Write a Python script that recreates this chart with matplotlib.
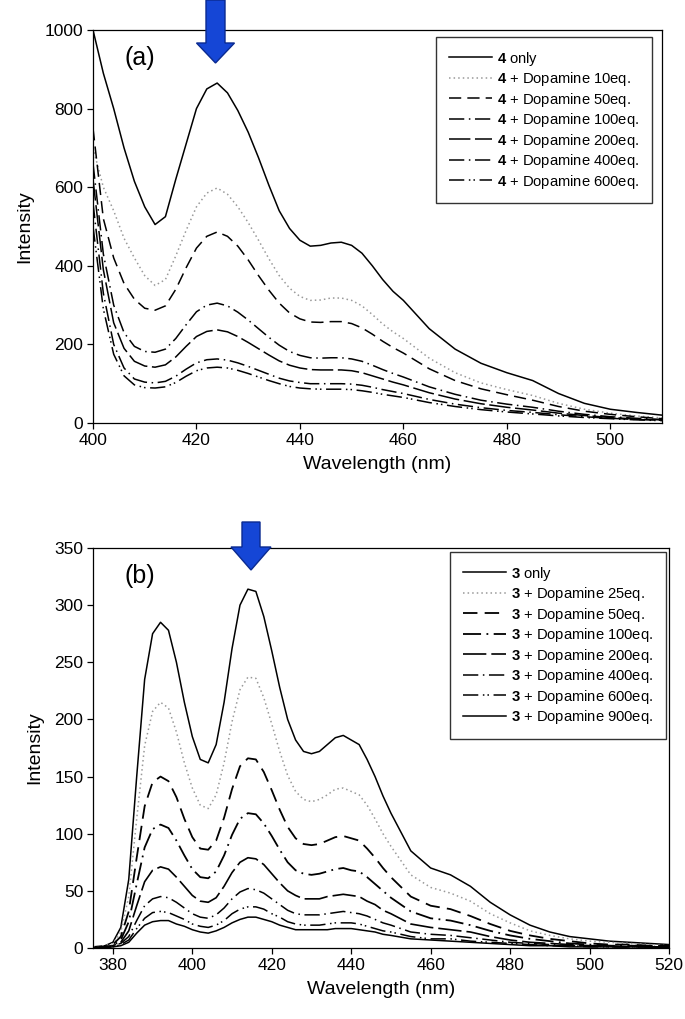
import matplotlib
matplotlib.use("Agg")
import matplotlib.pyplot as plt
from matplotlib.patches import Polygon

plt.rcParams['font.family'] = ['Liberation Sans', 'DejaVu Sans']
plt.rcParams['mathtext.fontset'] = 'custom'
plt.rcParams['mathtext.bf'] = 'Liberation Sans:bold'
plt.rcParams['mathtext.rm'] = 'Liberation Sans'
plt.rcParams['lines.solid_joinstyle'] = 'round'
plt.rcParams['lines.dash_joinstyle'] = 'round'

# ---------------- panel (a) data ----------------
wl_a = [400, 402, 404, 406, 408, 410, 412, 414, 416, 418, 420, 422, 424, 426, 428, 430,
        432, 434, 436, 438, 440, 442, 444, 446, 448, 450, 452, 454, 456, 458, 460,
        465, 470, 475, 480, 485, 490, 495, 500, 505, 510]
a_only = [1000, 890, 800, 700, 615, 550, 505, 525, 620, 710, 800, 850, 865, 840, 795, 740,
          675, 605, 540, 495, 465, 450, 452, 458, 460, 452, 432, 400, 365, 335, 312,
          240, 188, 152, 128, 108, 75, 50, 35, 27, 20]
a_10 = [700, 600, 540, 470, 420, 375, 350, 365, 425, 490, 550, 585, 598, 582, 550, 510,
        465, 418, 375, 343, 322, 312, 313, 318, 318, 312, 298, 276, 252, 232, 215,
        165, 128, 102, 85, 70, 50, 35, 25, 18, 13]
a_50 = [750, 520, 420, 355, 315, 292, 287, 298, 340, 395, 445, 475, 486, 475, 450, 415,
        375, 338, 305, 280, 265, 257, 256, 258, 258, 253, 242, 226, 208, 192, 178,
        138, 108, 87, 72, 58, 42, 30, 22, 16, 11]
a_100 = [660, 430, 300, 230, 195, 182, 180, 188, 215, 250, 283, 300, 305, 298, 282, 262,
         240, 218, 198, 182, 172, 166, 165, 166, 166, 163, 157, 147, 136, 126, 117,
         92, 73, 58, 48, 40, 30, 22, 16, 12, 9]
a_200 = [620, 390, 255, 190, 157, 145, 142, 148, 168, 195, 220, 233, 237, 232, 220, 205,
         189, 173, 158, 147, 140, 136, 135, 135, 135, 133, 128, 120, 112, 104, 97,
         77, 61, 49, 40, 33, 25, 19, 14, 10, 8]
a_400 = [560, 330, 200, 140, 112, 104, 102, 106, 119, 137, 153, 161, 163, 160, 153, 144,
         134, 124, 114, 107, 103, 100, 100, 100, 100, 99, 96, 91, 85, 80, 75,
         60, 48, 39, 32, 27, 21, 16, 12, 9, 7]
a_600 = [500, 290, 175, 120, 97, 90, 89, 92, 103, 119, 133, 140, 142, 140, 134, 126,
         117, 108, 100, 93, 89, 87, 86, 86, 86, 85, 82, 78, 73, 69, 65,
         52, 42, 34, 28, 23, 18, 14, 11, 8, 6]
labels_a = [r"$\mathbf{4}$ only", r"$\mathbf{4}$ + Dopamine 10eq.", r"$\mathbf{4}$ + Dopamine 50eq.",
            r"$\mathbf{4}$ + Dopamine 100eq.", r"$\mathbf{4}$ + Dopamine 200eq.",
            r"$\mathbf{4}$ + Dopamine 400eq.", r"$\mathbf{4}$ + Dopamine 600eq."]
series_a = [a_only, a_10, a_50, a_100, a_200, a_400, a_600]

# ---------------- panel (b) data ----------------
wl_b = [375, 378, 380, 382, 384, 386, 388, 390, 392, 394, 396, 398, 400, 402, 404, 406,
        408, 410, 412, 414, 416, 418, 420, 422, 424, 426, 428, 430, 432, 434, 436, 438,
        440, 442, 444, 446, 448, 450, 455, 460, 465, 470, 475, 480, 485, 490, 495, 500,
        505, 510, 515, 520]
b_only = [1, 2, 5, 18, 60, 150, 235, 275, 285, 278, 250, 215, 185, 165, 162, 178,
          215, 262, 300, 314, 312, 290, 260, 228, 200, 182, 172, 170, 172, 178, 184, 186,
          182, 178, 165, 150, 133, 118, 85, 70, 64, 54, 40, 29, 20, 14, 10, 8,
          6, 5, 4, 3]
b_25 = [1, 2, 4, 14, 45, 113, 177, 207, 215, 210, 189, 162, 140, 125, 122, 134,
        162, 198, 226, 237, 236, 219, 196, 172, 151, 137, 130, 128, 130, 134, 139, 140,
        137, 134, 125, 113, 100, 89, 64, 53, 48, 41, 30, 22, 15, 11, 8, 6,
        5, 4, 3, 2]
b_50 = [0, 1, 3, 10, 32, 79, 124, 145, 150, 146, 132, 113, 97, 87, 86, 94,
        114, 139, 159, 166, 165, 154, 138, 121, 106, 96, 91, 90, 91, 94, 97, 98,
        96, 94, 87, 79, 70, 62, 45, 37, 34, 28, 21, 15, 11, 8, 6, 4,
        3, 3, 2, 2]
b_100 = [0, 1, 2, 7, 23, 56, 88, 104, 108, 105, 94, 81, 69, 62, 61, 67,
         81, 99, 113, 118, 117, 109, 98, 86, 75, 68, 65, 64, 65, 67, 69, 70,
         68, 67, 62, 56, 50, 44, 32, 26, 24, 20, 15, 11, 8, 6, 4, 3,
         2, 2, 2, 1]
b_200 = [0, 1, 2, 5, 15, 37, 58, 68, 71, 69, 62, 54, 46, 41, 40, 44,
         54, 66, 75, 79, 78, 73, 65, 57, 50, 46, 43, 43, 43, 45, 46, 47,
         46, 45, 41, 38, 33, 30, 21, 18, 16, 14, 10, 7, 5, 4, 3, 2,
         2, 1, 1, 1]
b_400 = [0, 1, 2, 4, 10, 24, 37, 43, 45, 44, 40, 35, 30, 27, 26, 29,
         35, 43, 49, 52, 51, 48, 43, 38, 33, 30, 29, 29, 29, 30, 31, 32,
         31, 30, 28, 25, 22, 20, 14, 12, 11, 9, 7, 5, 4, 3, 2, 2,
         1, 1, 1, 1]
b_600 = [0, 1, 1, 3, 7, 17, 26, 31, 32, 31, 28, 25, 21, 19, 18, 20,
         24, 30, 34, 36, 36, 34, 30, 27, 23, 21, 20, 20, 20, 21, 22, 22,
         22, 21, 19, 17, 15, 14, 10, 8, 8, 6, 5, 4, 3, 2, 2, 1,
         1, 1, 1, 1]
b_900 = [0, 0, 1, 2, 5, 13, 20, 23, 24, 24, 21, 19, 16, 14, 13, 15,
         18, 22, 25, 27, 27, 25, 23, 20, 18, 16, 16, 16, 16, 16, 17, 17,
         17, 16, 15, 14, 12, 11, 8, 7, 6, 5, 4, 3, 2, 2, 1, 1,
         1, 1, 1, 0]
labels_b = [r"$\mathbf{3}$ only", r"$\mathbf{3}$ + Dopamine 25eq.", r"$\mathbf{3}$ + Dopamine 50eq.",
            r"$\mathbf{3}$ + Dopamine 100eq.", r"$\mathbf{3}$ + Dopamine 200eq.",
            r"$\mathbf{3}$ + Dopamine 400eq.", r"$\mathbf{3}$ + Dopamine 600eq.",
            r"$\mathbf{3}$ + Dopamine 900eq."]
series_b = [b_only, b_25, b_50, b_100, b_200, b_400, b_600, b_900]

# line styles (Excel-like)
styles_a = [
    dict(color='black', lw=1.1, ls='-'),
    dict(color='#999999', lw=1.1, ls=(0, (1, 2))),
    dict(color='black', lw=1.1, ls=(0, (8, 4))),
    dict(color='black', lw=1.1, ls=(0, (10, 3, 1, 3))),
    dict(color='black', lw=1.1, ls=(0, (14, 3))),
    dict(color='black', lw=1.1, ls=(0, (10, 3, 1, 3))),
    dict(color='black', lw=1.1, ls=(0, (10, 3, 1, 2, 1, 3))),
]
styles_b = [
    dict(color='black', lw=1.1, ls='-'),
    dict(color='#999999', lw=1.1, ls=(0, (1, 2))),
    dict(color='black', lw=1.3, ls=(0, (8, 4))),
    dict(color='black', lw=1.3, ls=(0, (10, 3, 1, 3))),
    dict(color='black', lw=1.2, ls=(0, (14, 3))),
    dict(color='black', lw=1.1, ls=(0, (10, 3, 1, 3))),
    dict(color='black', lw=1.1, ls=(0, (10, 3, 1, 2, 1, 3))),
    dict(color='black', lw=1.1, ls='-'),
]

W, H = 685, 1019
fig = plt.figure(figsize=(W / 100, H / 100), dpi=100)
A1 = (93, 30, 662, 423)   # left, top, right, bottom in px
A2 = (93, 548, 669, 948)
ax1 = fig.add_axes([A1[0] / W, 1 - A1[3] / H, (A1[2] - A1[0]) / W, (A1[3] - A1[1]) / H])
ax2 = fig.add_axes([A2[0] / W, 1 - A2[3] / H, (A2[2] - A2[0]) / W, (A2[3] - A2[1]) / H])

for y, lab, st in zip(series_a, labels_a, styles_a):
    ax1.plot(wl_a, y, label=lab, **st)
for y, lab, st in zip(series_b, labels_b, styles_b):
    ax2.plot(wl_b, y, label=lab, **st)

ax1.set_xlim(400, 510)
ax1.set_ylim(0, 1000)
ax1.set_xticks([400, 420, 440, 460, 480, 500])
ax1.set_yticks([0, 200, 400, 600, 800, 1000])
ax2.set_xlim(375, 520)
ax2.set_ylim(0, 350)
ax2.set_xticks([380, 400, 420, 440, 460, 480, 500, 520])
ax2.set_yticks([0, 50, 100, 150, 200, 250, 300, 350])

def leg_anchor(box, right, top):
    l, t, r, b = box
    return ((right - l) / (r - l), (b - top) / (b - t))

for ax, tag, box, lr, lt in ((ax1, '(a)', A1, 652, 37), (ax2, '(b)', A2, 666, 552)):
    ax.tick_params(direction='out', length=4, width=0.9, labelsize=12.5, pad=3)
    for s in ax.spines.values():
        s.set_linewidth(0.9)
    ax.set_xlabel('Wavelength (nm)', fontsize=14, labelpad=6)
    ax.set_ylabel('Intensity', fontsize=14, labelpad=8)
    ax.text(0.055, 0.93, tag, transform=ax.transAxes, fontsize=18, va='center', ha='left')
    leg = ax.legend(loc='upper right', fontsize=10.6, frameon=True, fancybox=False,
                    edgecolor='black', handlelength=2.9, handletextpad=0.4,
                    labelspacing=0.17, borderpad=0.85, borderaxespad=0.0,
                    bbox_to_anchor=leg_anchor(box, lr, lt))
    leg.get_frame().set_linewidth(1.0)

# blue arrows (figure pixel coordinates)
def arrow(xc, ytop, yhead, ybot, sw, hw):
    pts = [(xc - sw, ytop), (xc + sw, ytop), (xc + sw, yhead), (xc + hw, yhead),
           (xc, ybot), (xc - hw, yhead), (xc - sw, yhead)]
    pts = [(px / W, 1 - py / H) for px, py in pts]
    fig.patches.append(Polygon(pts, closed=True, transform=fig.transFigure,
                               facecolor='#1546d6', edgecolor='#0a2a90', lw=1))

arrow(215.5, 0, 43, 63, 9.5, 19)
arrow(251, 522, 547, 570, 9, 20)

fig.savefig('out.png', dpi=100)
